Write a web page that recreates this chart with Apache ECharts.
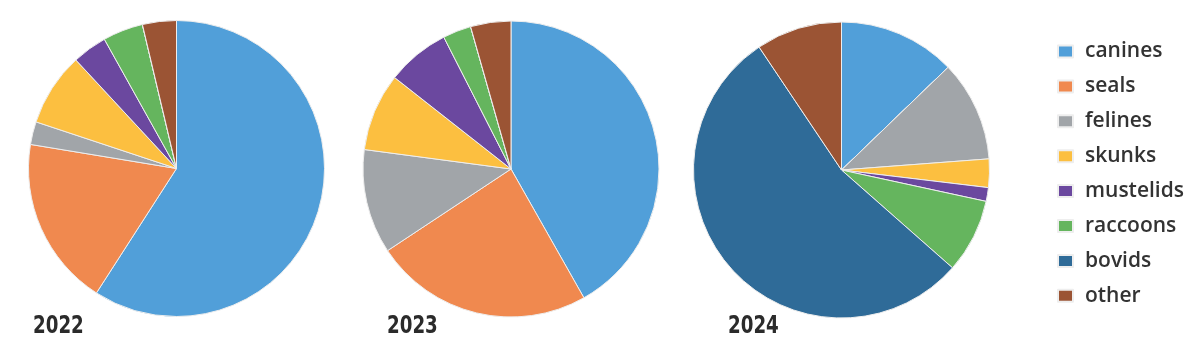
<!DOCTYPE html>
<html>
<head>
<meta charset="utf-8">
<script src="https://cdn.jsdelivr.net/npm/echarts@6/dist/echarts.min.js"></script>
<style>
html,body{margin:0;padding:0;background:#fff;}
#chart{width:1200px;height:353px;}
</style>
</head>
<body>
<div id="chart"></div>
<script>
const categories = ['canines','seals','felines','skunks','mustelids','raccoons','bovids','other'];
const colors = ['#519fd9','#f0894f','#a1a5a9','#fcbf40','#6b489f','#65b55e','#2f6b98','#9b5434'];
const years = ['2022','2023','2024'];
const values2022 = [59.1, 18.5, 2.5, 8.0, 3.8, 4.4, 0, 3.7];
const values2023 = [41.8, 23.9, 11.4, 8.5, 6.9, 3.1, 0, 4.4];
const values2024 = [12.8, 0, 11.0, 3.1, 1.5, 8.1, 54.1, 9.4];

const allValues = [values2022, values2023, values2024];
const centers = [[176.5,168.5],[511,169],[841.5,170]];
const labelX = [33, 387, 728];

const chart = echarts.init(document.getElementById('chart'), null, {renderer:'canvas'});
const series = allValues.map((vals, k) => ({
  type: 'pie',
  name: years[k],
  center: centers[k],
  radius: [0, 148],
  startAngle: 90,
  clockwise: true,
  animation: false,
  label: {show: false},
  labelLine: {show: false},
  emphasis: {disabled: true},
  itemStyle: {borderColor: '#eeeeee', borderWidth: 1},
  data: categories.map((c, i) => ({name: c, value: vals[i], itemStyle: {color: colors[i]}}))
}));

chart.setOption({
  backgroundColor: '#ffffff',
  color: colors,
  animation: false,
  legend: {
    orient: 'vertical',
    left: 1057,
    top: 41,
    padding: 0,
    icon: 'rect',
    itemWidth: 15,
    itemHeight: 12,
    itemGap: 13.9,
    data: categories,
    selectedMode: false,
    textStyle: {
      fontFamily: '"Open Sans", sans-serif',
      fontWeight: 600,
      fontSize: 21,
      lineHeight: 21,
      color: '#333333',
      padding: [0,0,0,7]
    }
  },
  graphic: years.map((y, k) => ({
    type: 'text',
    x: labelX[k],
    y: 326,
    scaleX: 0.73,
    style: {
      text: y,
      font: 'bold 25px "DejaVu Sans", sans-serif',
      fill: '#2b2b2b',
      align: 'left',
      verticalAlign: 'middle'
    }
  })),
  series: series
});
</script>
</body>
</html>
